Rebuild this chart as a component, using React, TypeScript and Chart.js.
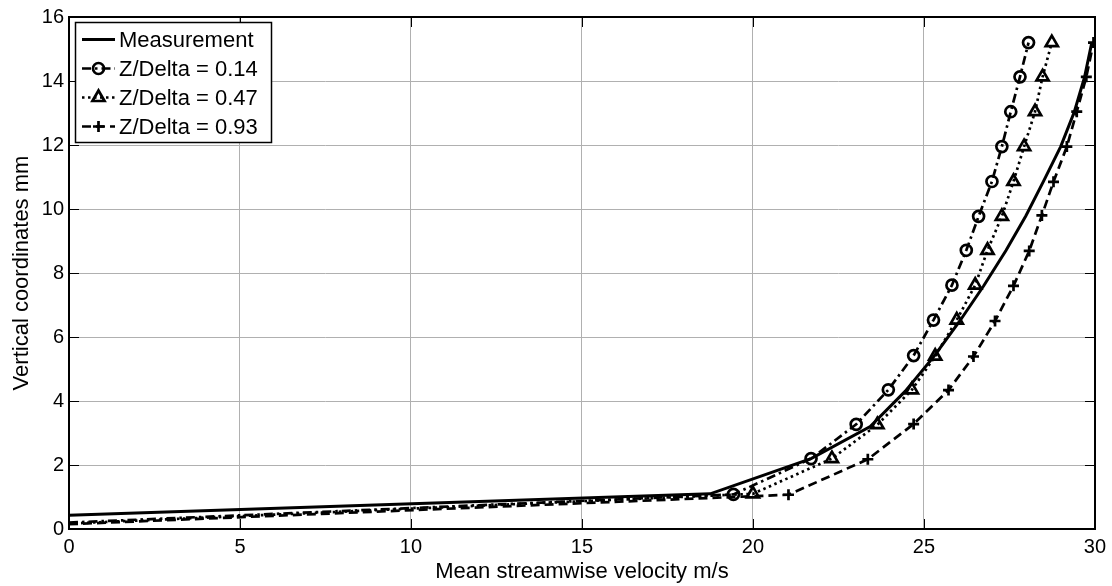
import React, { useEffect, useRef } from 'react';
import { Chart, registerables } from 'chart.js';

Chart.register(...registerables);

// ---- Data ----
const seriesLabels = ['Measurement', 'Z/Delta = 0.14', 'Z/Delta = 0.47', 'Z/Delta = 0.93'];

const measX = [0, 18.75, 21.7, 23.43, 24.45, 25.3, 26.05, 26.75, 27.4, 27.98, 28.5, 29.0, 29.4, 29.7, 29.91];
const measY = [0.43, 1.1, 2.2, 3.2, 4.3, 5.4, 6.5, 7.6, 8.7, 9.78, 10.87, 11.95, 13.04, 14.13, 15.2];

const z014X = [0, 19.43, 21.7, 23.02, 23.96, 24.7, 25.28, 25.82, 26.24, 26.6, 26.99, 27.28, 27.54, 27.81, 28.06];
const z014Y = [0.2, 1.08, 2.2, 3.27, 4.35, 5.42, 6.53, 7.62, 8.71, 9.77, 10.86, 11.95, 13.04, 14.13, 15.2];

const z047X = [0, 20.0, 22.31, 23.64, 24.65, 25.33, 25.96, 26.5, 26.86, 27.28, 27.62, 27.93, 28.25, 28.47, 28.74];
const z047Y = [0.17, 1.1, 2.2, 3.26, 4.35, 5.4, 6.53, 7.62, 8.71, 9.77, 10.86, 11.95, 13.04, 14.13, 15.2];

const z093X = [0, 21.04, 23.36, 24.7, 25.72, 26.45, 27.08, 27.62, 28.08, 28.45, 28.79, 29.18, 29.47, 29.75, 29.96];
const z093Y = [0.15, 1.07, 2.18, 3.28, 4.34, 5.39, 6.5, 7.6, 8.69, 9.8, 10.85, 11.95, 13.04, 14.13, 15.2];

const xTickStep = 5;
const yTickStep = 2;
const xTitle = 'Mean streamwise velocity m/s';
const yTitle = 'Vertical coordinates mm';

const FONT = "'Liberation Sans', Arial, Helvetica, sans-serif";

type Style = { dash: number[]; marker: string | false; width: number; radius: number };
const styles: Style[] = [
  { dash: [], marker: false, width: 3, radius: 0 },
  { dash: [9, 4, 2.5, 4], marker: 'circle', width: 2.7, radius: 5.5 },
  { dash: [2.5, 3.5], marker: 'triangle', width: 2.7, radius: 7 },
  { dash: [9, 5], marker: 'cross', width: 2.7, radius: 5.5 },
];
const MARKER_LW = 2.7;

function drawMarker(ctx: CanvasRenderingContext2D, kind: string | false, x: number, y: number, r: number) {
  if (!kind) return;
  ctx.save();
  ctx.setLineDash([]);
  ctx.lineWidth = MARKER_LW;
  ctx.strokeStyle = '#000';
  ctx.beginPath();
  if (kind === 'circle') {
    ctx.arc(x, y, r, 0, Math.PI * 2);
  } else if (kind === 'triangle') {
    for (let i = 0; i < 3; i++) {
      const a = -Math.PI / 2 + (i * 2 * Math.PI) / 3;
      const px = x + Math.cos(a) * r;
      const py = y + Math.sin(a) * r;
      if (i === 0) ctx.moveTo(px, py);
      else ctx.lineTo(px, py);
    }
    ctx.closePath();
  } else if (kind === 'cross') {
    ctx.moveTo(x - r, y);
    ctx.lineTo(x + r, y);
    ctx.moveTo(x, y - r);
    ctx.lineTo(x, y + r);
  }
  ctx.stroke();
  ctx.restore();
}

const framePlugin = {
  id: 'matlabFrame',
  afterDraw(chart: any) {
    const { ctx, chartArea: a, scales } = chart;
    const xs = scales.x;
    const ys = scales.y;
    ctx.save();
    const L = Math.round(a.left);
    const R = Math.round(a.right);
    const T = Math.round(a.top);
    const B = Math.round(a.bottom);
    // inner ticks
    ctx.strokeStyle = '#000';
    ctx.lineWidth = 1;
    ctx.beginPath();
    const tl = 10;
    xs.ticks.forEach((t: any) => {
      const px = Math.round(xs.getPixelForValue(t.value)) + 0.5;
      ctx.moveTo(px, B);
      ctx.lineTo(px, B - tl);
      ctx.moveTo(px, T);
      ctx.lineTo(px, T + tl);
    });
    ys.ticks.forEach((t: any) => {
      const py = Math.round(ys.getPixelForValue(t.value)) + 0.5;
      ctx.moveTo(L, py);
      ctx.lineTo(L + tl, py);
      ctx.moveTo(R, py);
      ctx.lineTo(R - tl, py);
    });
    ctx.stroke();
    // box
    ctx.lineWidth = 2;
    ctx.strokeRect(L, T, R - L, B - T);

    // legend
    const bx = 75.5, by = 22.5, bw = 196, bh = 120;
    ctx.fillStyle = '#fff';
    ctx.fillRect(bx, by, bw, bh);
    ctx.lineWidth = 1.5;
    ctx.strokeStyle = '#000';
    ctx.strokeRect(bx, by, bw, bh);
    const rows = [39.5, 68.5, 97.5, 126.5];
    ctx.font = `22px ${FONT}`;
    ctx.textBaseline = 'middle';
    ctx.textAlign = 'left';
    seriesLabels.forEach((lab, i) => {
      const st = styles[i];
      const yy = rows[i];
      ctx.save();
      ctx.lineWidth = st.width;
      ctx.setLineDash(st.dash);
      ctx.strokeStyle = '#000';
      ctx.beginPath();
      ctx.moveTo(82, yy);
      ctx.lineTo(115, yy);
      ctx.stroke();
      ctx.restore();
      drawMarker(ctx, st.marker, 98.5, yy, st.radius);
      ctx.fillStyle = '#000';
      ctx.fillText(lab, 119, yy + 1);
    });
    ctx.restore();
  },
};

export default function App() {
  const ref = useRef<HTMLCanvasElement>(null);

  useEffect(() => {
    document.body.style.margin = '0';
    const canvas = ref.current;
    if (!canvas) return;

    const xsArr = [measX, z014X, z047X, z093X];
    const ysArr = [measY, z014Y, z047Y, z093Y];

    const datasets = seriesLabels.map((label, i) => {
      const st = styles[i];
      return {
        label,
        data: xsArr[i].map((x, j) => ({ x, y: ysArr[i][j] })),
        showLine: true,
        borderColor: '#000',
        borderWidth: st.width,
        borderDash: st.dash,
        backgroundColor: 'rgba(0,0,0,0)',
        fill: false,
        tension: 0,
        pointStyle: st.marker || 'circle',
        pointRadius: xsArr[i].map((_, j) => (j === 0 || !st.marker ? 0 : st.radius)),
        pointHoverRadius: 0,
        pointBorderColor: '#000',
        pointBackgroundColor: 'rgba(0,0,0,0)',
        pointBorderWidth: MARKER_LW,
      };
    });

    const chart = new Chart(canvas, {
      type: 'scatter',
      data: { datasets: datasets as any },
      options: {
        animation: false,
        responsive: false,
        maintainAspectRatio: false,
        events: [],
        layout: { padding: { left: 0, top: 15, right: 17, bottom: 0 } },
        plugins: {
          legend: { display: false },
          tooltip: { enabled: false },
        },
        scales: {
          x: {
            type: 'linear',
            min: 0,
            max: 30,
            afterFit: (s: any) => {
              s.height = 57;
            },
            ticks: {
              stepSize: xTickStep,
              autoSkip: false,
              maxRotation: 0,
              padding: 6,
              color: '#000',
              font: { family: FONT, size: 20 },
            },
            grid: { color: '#b0b0b0', lineWidth: 1, drawTicks: false },
            border: { display: false },
            title: {
              display: true,
              text: xTitle,
              color: '#000',
              font: { family: FONT, size: 22 },
              padding: { top: 0, bottom: 1 },
            },
          },
          y: {
            type: 'linear',
            min: 0,
            max: 16,
            afterFit: (s: any) => {
              s.width = 69;
            },
            ticks: {
              stepSize: yTickStep,
              autoSkip: false,
              padding: 5,
              color: '#000',
              font: { family: FONT, size: 20 },
            },
            grid: { color: '#b0b0b0', lineWidth: 1, drawTicks: false },
            border: { display: false },
            title: {
              display: true,
              text: yTitle,
              color: '#000',
              font: { family: FONT, size: 22 },
              padding: { top: 9, bottom: 0 },
            },
          },
        },
      },
      plugins: [framePlugin],
    });

    return () => {
      chart.destroy();
    };
  }, []);

  return (
    <div style={{ width: 1112, height: 586, background: '#fff' }}>
      <canvas ref={ref} width={1112} height={586} style={{ display: 'block', width: 1112, height: 586 }} />
    </div>
  );
}
